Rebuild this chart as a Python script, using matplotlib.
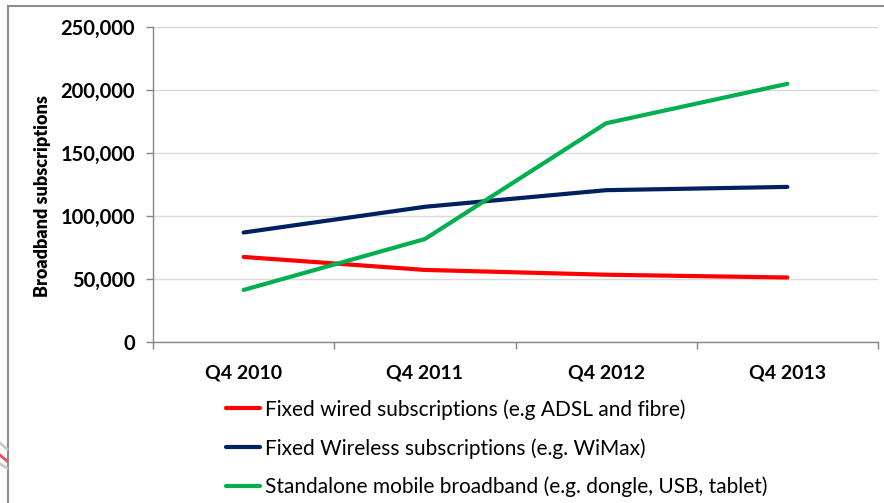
import matplotlib
matplotlib.use("Agg")
import matplotlib.pyplot as plt
from matplotlib.lines import Line2D
from matplotlib.ticker import FuncFormatter, FixedLocator

plt.rcParams['font.family'] = ['Lato', 'DejaVu Sans']

categories = ["Q4 2010", "Q4 2011", "Q4 2012", "Q4 2013"]
fixed_wired = [67500, 57200, 53400, 51200]
fixed_wireless = [86900, 107300, 120500, 123100]
mobile = [41300, 81700, 173600, 204900]
series_labels = [
    "Fixed wired subscriptions (e.g ADSL and fibre)",
    "Fixed Wireless subscriptions (e.g. WiMax)",
    "Standalone mobile broadband (e.g. dongle, USB, tablet)",
]
series_colors = ["#FF0000", "#002060", "#00B050"]
yticks = [0, 50000, 100000, 150000, 200000, 250000]

W, H = 884, 503
fig = plt.figure(figsize=(W / 100, H / 100), dpi=100)
ax = fig.add_axes([153 / W, (H - 342) / H, (878 - 153) / W, (342 - 27) / H])

x = list(range(len(categories)))
handles = []
for vals, lab, col in zip([fixed_wired, fixed_wireless, mobile], series_labels, series_colors):
    h, = ax.plot(x, vals, color=col, lw=3, solid_capstyle='round', label=lab, zorder=3)
    handles.append(h)

ax.set_xlim(-0.5, len(categories) - 0.5)
ax.set_ylim(0, 250000)
ax.set_yticks(yticks)
ax.yaxis.set_major_formatter(FuncFormatter(lambda v, p: f"{int(v):,}"))
ax.set_xticks(x)
ax.set_xticklabels(categories, fontsize=14, fontweight='bold')
ax.xaxis.set_minor_locator(FixedLocator([i - 0.5 for i in range(len(categories) + 1)]))
ax.tick_params(axis='x', which='major', length=0, pad=16)
ax.tick_params(axis='x', which='minor', length=5, color='#868686', width=1)
ax.tick_params(axis='y', length=5, color='#868686', width=1, pad=8, labelsize=14.5)
for lbl in ax.get_yticklabels():
    lbl.set_fontweight('bold')
ax.grid(axis='y', color='#d9d9d9', lw=1, zorder=0)
for s in ['top', 'right']:
    ax.spines[s].set_visible(False)
for s in ['left', 'bottom']:
    ax.spines[s].set_color('#868686')
    ax.spines[s].set_linewidth(1)
ax.set_ylabel("Broadband subscriptions", fontsize=13, fontweight='heavy', va='center')
ax.yaxis.set_label_coords((43 - 153) / 725, (342 - 196) / 315)

fig.legend(handles=handles, loc='upper left', bbox_to_anchor=(226 / W, 1 - 399 / H),
           frameon=False, fontsize=15, handlelength=1.65, handletextpad=0.2,
           labelspacing=0.88, borderaxespad=0, borderpad=0)

# outer frame
fig.add_artist(Line2D([8 / W, 1], [1 - 6 / H, 1 - 6 / H], color='#8c8c8c', lw=1.5, transform=fig.transFigure))
fig.add_artist(Line2D([8 / W, 8 / W], [0, 1 - 6 / H], color='#8c8c8c', lw=1.5, transform=fig.transFigure))
# partial watermark at the left edge
fig.add_artist(Line2D([0, 7 / W], [1 - 443 / H, 1 - 449 / H], color='#c8c8c8', lw=2, transform=fig.transFigure))
fig.add_artist(Line2D([0, 7 / W], [1 - 455 / H, 1 - 461 / H], color='#e8506a', lw=2, transform=fig.transFigure))
fig.add_artist(Line2D([0, 7 / W], [1 - 464 / H, 1 - 468 / H], color='#c8c8c8', lw=2, transform=fig.transFigure))

fig.savefig("out.png", dpi=100)
